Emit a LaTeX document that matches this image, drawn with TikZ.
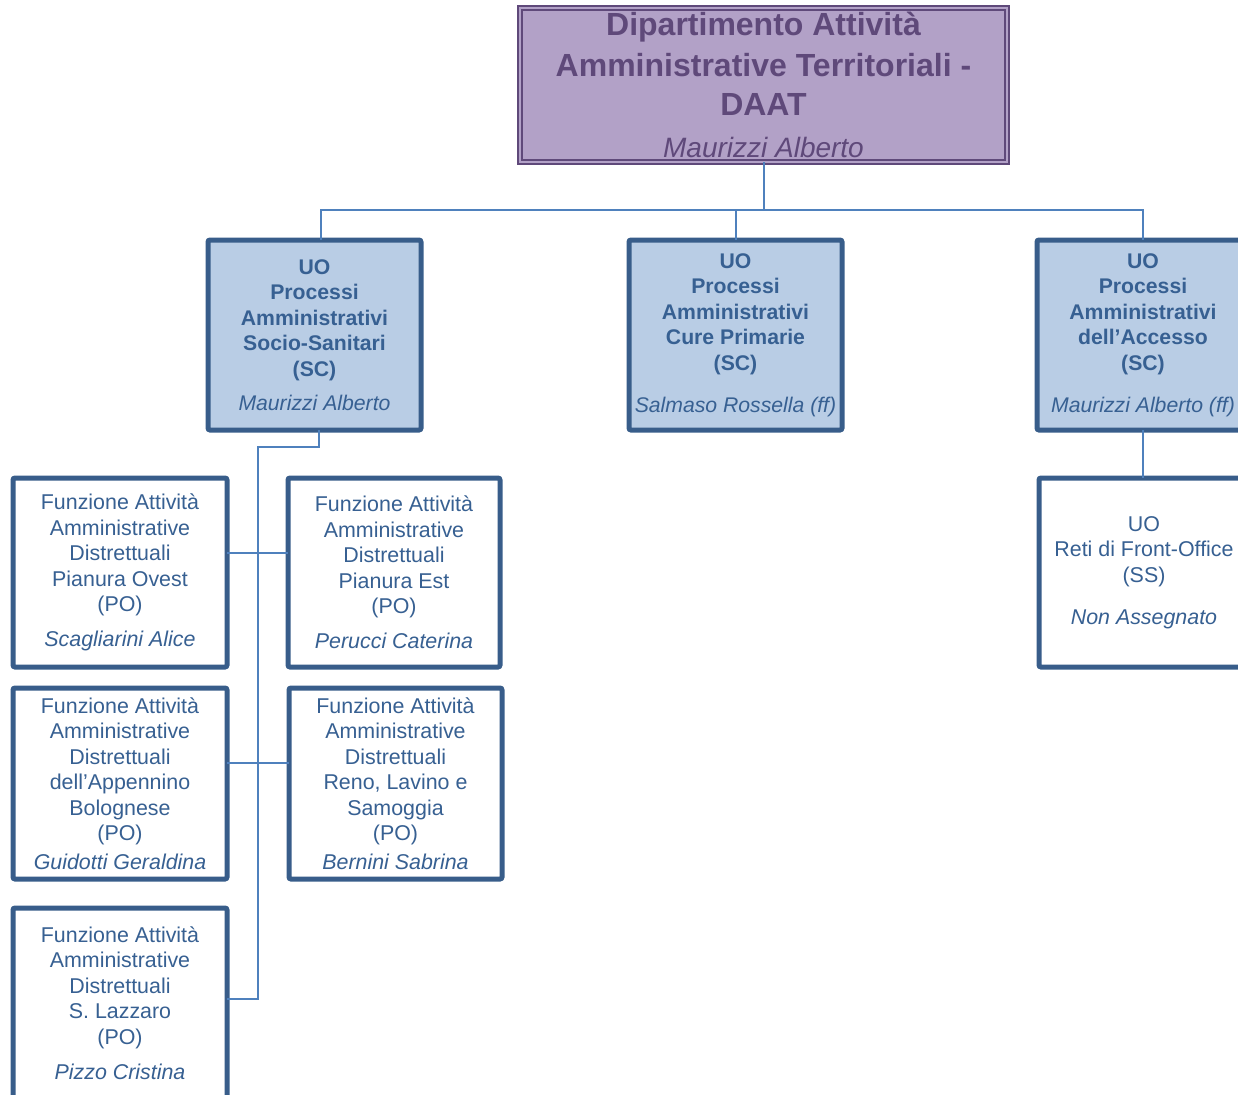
\documentclass[tikz,border=0pt]{standalone}
\usepackage{fontspec}
\setmainfont{Liberation Sans}

\definecolor{daatfill}{HTML}{B2A1C7}
\definecolor{daatline}{HTML}{5F497A}
\definecolor{uofill}{HTML}{B9CDE5}
\definecolor{boxline}{HTML}{385D8A}
\definecolor{boxtext}{HTML}{376092}
\definecolor{linkblue}{HTML}{4F81BD}

\newcommand{\nome}[1]{{\mdseries\itshape #1}}

\tikzset{
  wh/.style 2 args={minimum width={#1*0.5pt}, minimum height={#2*0.5pt}, anchor=north west},
  box/.style={draw=boxline, line width=2.5pt, rounded corners=1pt, inner sep=0pt, outer sep=0pt,
    align=center, text=boxtext, font=\fontsize{10.7}{12.75}\selectfont},
  uobox/.style={box, fill=uofill, font=\bfseries\fontsize{10.6}{12.75}\selectfont},
  pobox/.style={box, fill=white},
  daatbox/.style={draw=daatline, fill=daatfill, double=daatfill, line width=0.6pt,
    double distance=1.4pt, inner sep=0pt, outer sep=0pt, align=center, text=daatline,
    font=\bfseries\fontsize{16}{19.5}\selectfont},
  link/.style={draw=linkblue, line width=1pt}
}

\begin{document}
\begin{tikzpicture}[x=0.5pt, y=-0.5pt]
\useasboundingbox (0,0) rectangle (1238,1094);
\clip (0,0) rectangle (1238,1094);

% direzione
\node [daatbox, wh={487}{154}] (daat) at (520,8)
  {Dipartimento Attività\\[0.8pt]Amministrative Territoriali -\\DAAT\\[1.5pt]
   {\mdseries\itshape\fontsize{14}{16}\selectfont Maurizzi Alberto}};

% strutture complesse
\node [uobox, wh={213}{190}] (uo1) at (208,240)
  {UO\\Processi\\Amministrativi\\Socio-Sanitari\\(SC)\\[4.2pt]\nome{Maurizzi Alberto}};
\node [uobox, wh={213}{190}] (uo2) at (629,240)
  {UO\\Processi\\Amministrativi\\Cure Primarie\\(SC)\\[8.2pt]\nome{Salmaso Rossella (ff)}};
\node [uobox, wh={212}{190}] (uo3) at (1037,240)
  {UO\\Processi\\Amministrativi\\dell’Accesso\\(SC)\\[8.2pt]\nome{Maurizzi Alberto (ff)}};

% posizioni organizzative
\node [pobox, wh={214}{189}] (poA) at (13,478)
  {Funzione Attività\\Amministrative\\Distrettuali\\Pianura Ovest\\(PO)\\[4.7pt]\nome{Scagliarini Alice}};
\node [pobox, wh={212}{189}] (poB) at (288,478)
  {Funzione Attività\\Amministrative\\Distrettuali\\Pianura Est\\(PO)\\[4.7pt]\nome{Perucci Caterina}};
\node [pobox, wh={214}{191}] (poC) at (13,688)
  {Funzione Attività\\Amministrative\\Distrettuali\\dell'Appennino\\Bolognese\\(PO)\\[1.7pt]\nome{Guidotti Geraldina}};
\node [pobox, wh={213}{191}] (poD) at (289,688)
  {Funzione Attività\\Amministrative\\Distrettuali\\Reno, Lavino e\\Samoggia\\(PO)\\[1.7pt]\nome{Bernini Sabrina}};
\node [pobox, wh={214}{190}] (poE) at (13,908)
  {Funzione Attività\\Amministrative\\Distrettuali\\S. Lazzaro\\(PO)\\[4.7pt]\nome{Pizzo Cristina}};

% struttura semplice
\node [pobox, wh={210}{189}] (ss) at (1039,478)
  {UO\\Reti di Front-Office\\(SS)\\[8.2pt]\nome{Non Assegnato}};

% collegamenti
\coordinate (bus) at (765,210);
\draw [link] (daat.south) -- (daat.south |- bus);
\draw [link] ([xshift=3pt]uo1.north) |- (bus) -| (uo3.north);
\draw [link] (uo2.north) -- (uo2.north |- bus);
\draw [link] (uo3.south) -- (uo3.south |- ss.north);

\coordinate (spine) at (258,447);
\coordinate (rowA) at (258,553);
\coordinate (rowC) at (258,763);
\coordinate (rowE) at (258,999);
\draw [link] ([xshift=2pt]uo1.south) |- (spine) -- (rowE) -- (poE.east |- rowE);
\draw [link] (poA.east |- rowA) -- (poB.west |- rowA);
\draw [link] (poC.east |- rowC) -- (poD.west |- rowC);
\end{tikzpicture}
\end{document}
